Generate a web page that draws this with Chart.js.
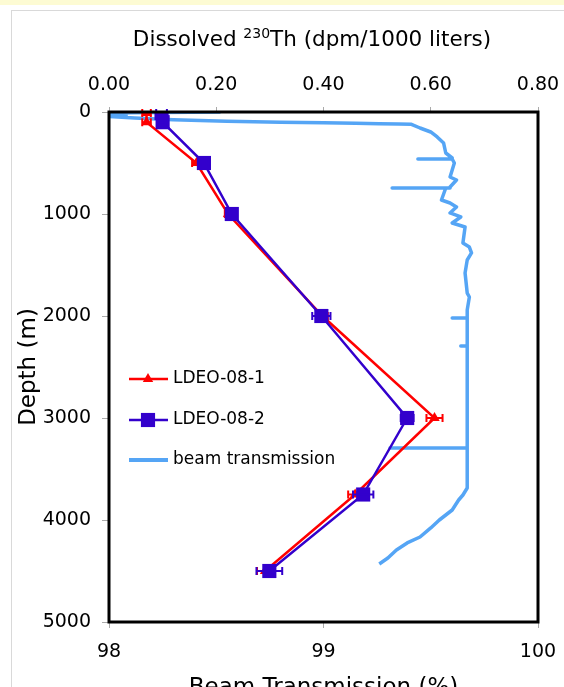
<!DOCTYPE html>
<html>
<head>
<meta charset="utf-8">
<script src="https://cdn.jsdelivr.net/npm/chart.js@4.4.1/dist/chart.umd.min.js"></script>
<style>
  html, body { margin: 0; padding: 0; background: #fff; }
  #wrap { position: relative; width: 564px; height: 687px; overflow: hidden; }
  #band { position: absolute; left: 0; top: 0; width: 564px; height: 5px; background: #fdfbd3; }
  #panel { position: absolute; left: 11px; top: 10px; width: 600px; height: 700px; border: 1px solid #d9d9d9; background: #fff; }
  canvas { position: absolute; left: 0; top: 0; }
</style>
</head>
<body>
<div id="wrap">
  <div id="band"></div>
  <div id="panel"></div>
  <canvas id="chart" width="564" height="687"></canvas>
</div>
<script>
const FONT = "'DejaVu Sans', Verdana, sans-serif";

// dissolved 230Th, dpm/1000 L, against depth (m)
const depth1 = [10, 100, 500, 1000, 2000, 3000, 3750, 4500];
const th1 = [0.07, 0.07, 0.163, 0.222, 0.398, 0.607, 0.459, 0.291];
const th1Err = [0.008, 0.008, 0.008, 0.006, 0.01, 0.015, 0.013, 0.015];

const depth2 = [10, 100, 500, 1000, 2000, 3000, 3750, 4500];
const th2 = [0.098, 0.1, 0.177, 0.229, 0.396, 0.556, 0.474, 0.299];
const th2Err = [0.01, 0.01, 0.008, 0.008, 0.017, 0.012, 0.019, 0.024];

// beam transmission profile (%), against depth (m)
const beamDepth = [
  0, 8, 15, 30, 45, 60, 75, 90, 100, 106, 110, 114, 118, 121, 157, 196, 245,
  304, 402, 451, 461, 461, 461, 500, 569, 637, 667, 735, 745, 745, 745, 863,
  892, 931, 990, 1029, 1088, 1127, 1284, 1324, 1382, 1451, 1578, 1775, 1814,
  1941, 2020, 2020, 2020, 2137, 2294, 2294, 2294, 2824, 3294, 3294, 3294,
  3686, 3755, 3804, 3902, 4000, 4078, 4167, 4225, 4294, 4373, 4431,
];
const beamTrans = [
  98.52, 98.1, 98.0, 98.08, 98.0, 98.12, 98.3, 98.55, 98.8, 99.0, 99.15,
  99.26, 99.35, 99.41, 99.45, 99.5, 99.53, 99.56, 99.57, 99.6, 99.6, 99.44,
  99.6, 99.61, 99.6, 99.59, 99.62, 99.59, 99.59, 99.32, 99.57, 99.55, 99.59,
  99.62, 99.59, 99.64, 99.6, 99.66, 99.65, 99.68, 99.69, 99.67, 99.66, 99.67,
  99.68, 99.67, 99.67, 99.6, 99.67, 99.67, 99.67, 99.64, 99.67, 99.67, 99.67,
  99.31, 99.67, 99.67, 99.65, 99.63, 99.6, 99.54, 99.5, 99.45, 99.39, 99.34,
  99.3, 99.26,
];

const RED = "#ff0000";
const BLUE = "#3300cc";
const LIGHT = "#55a5f5";

function toPoints(xs, ys) {
  return xs.map((x, i) => ({ x, y: ys[i] }));
}

// horizontal error bars, drawn right after their own dataset
const errorBars = {
  id: "errorBars",
  afterDatasetDraw(chart, args) {
    const ds = chart.data.datasets[args.index];
    if (!ds.errors) return;
    const ctx = chart.ctx;
    const xs = chart.scales[ds.xAxisID];
    const ys = chart.scales.y;
    ctx.save();
    ctx.strokeStyle = ds.borderColor;
    ctx.lineWidth = 2;
    ds.data.forEach((p, j) => {
      const e = ds.errors[j];
      const x0 = xs.getPixelForValue(p.x - e);
      const x1 = xs.getPixelForValue(p.x + e);
      const y = ys.getPixelForValue(p.y);
      ctx.beginPath();
      ctx.moveTo(x0, y);
      ctx.lineTo(x1, y);
      ctx.moveTo(x0, y - 4);
      ctx.lineTo(x0, y + 4);
      ctx.moveTo(x1, y - 4);
      ctx.lineTo(x1, y + 4);
      ctx.stroke();
    });
    ctx.restore();
  },
};

const frame = {
  id: "frame",
  afterDatasetsDraw(chart) {
    const { ctx, chartArea: a } = chart;
    ctx.save();
    ctx.strokeStyle = "#000";
    ctx.lineWidth = 3;
    ctx.strokeRect(a.left, a.top, a.right - a.left, a.bottom - a.top);
    ctx.restore();
  },
};

// top title with the superscript mass number
const topTitle = {
  id: "topTitle",
  afterDraw(chart) {
    const ctx = chart.ctx;
    const parts = [
      { t: "Dissolved ", size: 21.5, dy: 0 },
      { t: "230", size: 14, dy: -8 },
      { t: "Th (dpm/1000 liters)", size: 21.5, dy: 0 },
    ];
    ctx.save();
    ctx.fillStyle = "#000";
    ctx.textBaseline = "alphabetic";
    let total = 0;
    parts.forEach((p) => {
      ctx.font = `${p.size}px ${FONT}`;
      p.w = ctx.measureText(p.t).width;
      total += p.w;
    });
    let x = 312 - total / 2;
    parts.forEach((p) => {
      ctx.font = `${p.size}px ${FONT}`;
      ctx.fillText(p.t, x, 46 + p.dy);
      x += p.w;
    });
    ctx.restore();
  },
};

const legendBox = {
  id: "legendBox",
  afterDraw(chart) {
    const ctx = chart.ctx;
    const items = [
      { label: "LDEO-08-1", color: RED, marker: "triangle", y: 379 },
      { label: "LDEO-08-2", color: BLUE, marker: "rect", y: 420 },
      { label: "beam transmission", color: LIGHT, marker: null, y: 460 },
    ];
    ctx.save();
    items.forEach((it) => {
      ctx.strokeStyle = it.color;
      ctx.lineWidth = it.marker ? 2.5 : 4;
      ctx.beginPath();
      ctx.moveTo(129, it.y);
      ctx.lineTo(168, it.y);
      ctx.stroke();
      if (it.marker) {
        ctx.fillStyle = it.color;
        Chart.helpers.drawPoint(
          ctx,
          { pointStyle: it.marker, radius: it.marker === "rect" ? 10 : 6, borderWidth: 0 },
          148,
          it.y
        );
      }
      ctx.fillStyle = "#000";
      ctx.font = `17px ${FONT}`;
      ctx.textBaseline = "middle";
      ctx.fillText(it.label, 173, it.y);
    });
    ctx.restore();
  },
};

const tickFont = { family: FONT, size: 19 };

// fixed axis boxes so the plot frame lands where it does in the original
function fixBox(size) {
  return (s) => {
    if (s.isHorizontal()) s.height = size;
    else s.width = size;
    s.paddingLeft = 0;
    s.paddingRight = 0;
    s.paddingTop = 0;
    s.paddingBottom = 0;
  };
}

new Chart(document.getElementById("chart"), {
  type: "scatter",
  data: {
    datasets: [
      {
        label: "LDEO-08-1",
        data: toPoints(th1, depth1),
        errors: th1Err,
        xAxisID: "x2",
        showLine: true,
        borderColor: RED,
        backgroundColor: RED,
        borderWidth: 2.5,
        pointStyle: "triangle",
        pointRadius: 6,
        pointBorderWidth: 0,
        order: 1,
      },
      {
        label: "LDEO-08-2",
        data: toPoints(th2, depth2),
        errors: th2Err,
        xAxisID: "x2",
        showLine: true,
        borderColor: BLUE,
        backgroundColor: BLUE,
        borderWidth: 2.5,
        pointStyle: "rect",
        pointRadius: 10,
        pointBorderWidth: 0,
        order: 0,
      },
      {
        label: "beam transmission",
        data: toPoints(beamTrans, beamDepth),
        xAxisID: "x",
        showLine: true,
        borderColor: LIGHT,
        backgroundColor: LIGHT,
        borderWidth: 3.5,
        borderJoinStyle: "round",
        pointRadius: 0,
        order: 2,
      },
    ],
  },
  options: {
    responsive: false,
    animation: false,
    devicePixelRatio: 1,
    layout: { padding: { left: 0, right: 26, top: 0, bottom: -15 } },
    plugins: {
      legend: { display: false },
      tooltip: { enabled: false },
    },
    scales: {
      x: {
        type: "linear",
        position: "bottom",
        min: 98,
        max: 100,
        ticks: { stepSize: 1, color: "#000", font: tickFont, padding: 13 },
        grid: { drawOnChartArea: false, tickLength: 6, color: "#aaa" },
        border: { display: false },
        title: {
          display: true,
          text: "Beam Transmission (%)",
          color: "#000",
          font: { family: FONT, size: 23 },
          padding: 0,
        },
        afterFit: fixBox(80),
      },
      x2: {
        type: "linear",
        position: "top",
        min: 0,
        max: 0.8,
        ticks: {
          stepSize: 0.2,
          color: "#000",
          font: tickFont,
          padding: 11,
          callback: (v) => v.toFixed(2),
        },
        grid: { drawOnChartArea: false, tickLength: 5, color: "#aaa" },
        border: { display: false },
        afterFit: fixBox(112),
      },
      y: {
        type: "linear",
        reverse: true,
        min: 0,
        max: 5000,
        ticks: {
          stepSize: 1000,
          color: "#000",
          font: tickFont,
          padding: 11,
          callback: (v) => String(v),
        },
        grid: { drawOnChartArea: false, tickLength: 7, color: "#aaa" },
        border: { display: false },
        title: {
          display: true,
          text: "Depth (m)",
          color: "#000",
          font: { family: FONT, size: 23 },
          padding: { top: 15, bottom: 0 },
        },
        afterFit: fixBox(109),
      },
    },
  },
  plugins: [errorBars, frame, topTitle, legendBox],
});
</script>
</body>
</html>
